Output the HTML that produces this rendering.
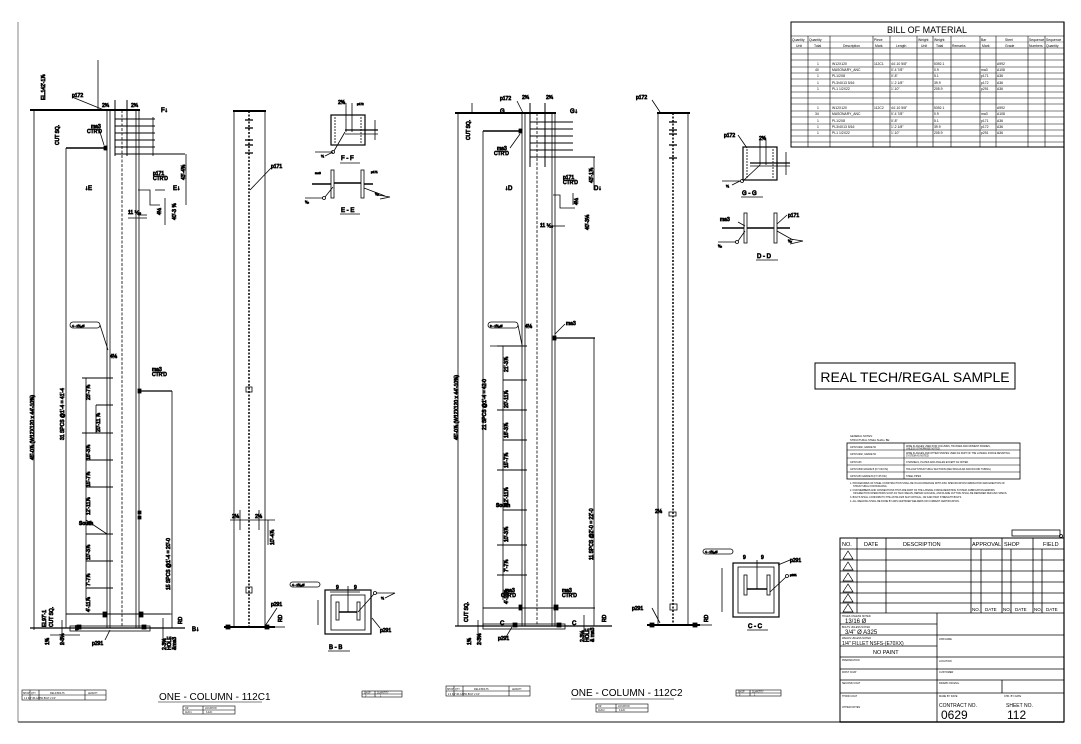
<!DOCTYPE html>
<html><head><meta charset="utf-8"><style>
html,body{margin:0;padding:0;background:#fff}
svg{display:block}
text{font-family:"Liberation Sans",sans-serif;fill:#000}
.t{font-size:5px}.s{font-size:3px}.m{font-size:6px}
</style></head><body>
<svg width="1081" height="744" viewBox="0 0 1081 744" xmlns="http://www.w3.org/2000/svg" stroke="#000" fill="none" stroke-width="0.8">
<!-- frame -->
<line x1="18" y1="22" x2="18" y2="722" stroke="#666"/>
<line x1="1064" y1="22" x2="1064" y2="722" stroke-width="1.2"/>
<line x1="18" y1="722" x2="1064" y2="722" stroke="#777" stroke-width="1.8"/>

<!-- ===== COLUMN 1 ELEVATION ===== -->
<g>
<line x1="34" y1="110" x2="34" y2="630"/>
<line x1="66" y1="148" x2="66" y2="628"/>
<line x1="30" y1="110" x2="140" y2="110" stroke-width="2"/>
<line x1="107" y1="110" x2="107" y2="628"/><line x1="110" y1="110" x2="110" y2="628"/>
<line x1="122" y1="110" x2="122" y2="628" stroke-dasharray="3,1.5"/>
<line x1="136" y1="110" x2="136" y2="628"/><line x1="139" y1="110" x2="139" y2="628"/>
<g stroke-width="1">
<line x1="115" y1="119" x2="155" y2="119"/><line x1="115" y1="126" x2="155" y2="126"/><line x1="115" y1="133" x2="155" y2="133"/><line x1="115" y1="140" x2="155" y2="140"/><line x1="115" y1="147" x2="155" y2="147"/><line x1="115" y1="154" x2="185" y2="154"/>
<line x1="115" y1="100" x2="115" y2="156"/><line x1="127" y1="100" x2="127" y2="156"/>
</g>
<line x1="153" y1="117" x2="153" y2="156"/>
<line x1="186" y1="154" x2="186" y2="205"/>
<line x1="66" y1="148" x2="105" y2="148" stroke-width="1.5"/><rect x="104" y="146" width="3" height="4" fill="#000"/>
<line x1="98" y1="60" x2="98" y2="110"/>
<line x1="99" y1="129" x2="104" y2="145"/>
<line x1="72" y1="97" x2="104" y2="110"/>
<!-- p171 bracket -->
<polyline points="138,190 150,190 150,205 160,205"/><line x1="155" y1="190" x2="165" y2="190"/><line x1="138" y1="215" x2="147" y2="215"/><line x1="128" y1="218" x2="147" y2="218"/>
<line x1="165" y1="198" x2="165" y2="225"/>
<!-- anchors -->
<g stroke-width="1">
<line x1="82" y1="378" x2="113" y2="378"/><line x1="96" y1="405" x2="113" y2="405"/><line x1="82" y1="433" x2="113" y2="433"/><line x1="86" y1="460" x2="113" y2="460"/><line x1="86" y1="487" x2="113" y2="487"/><line x1="86" y1="534" x2="113" y2="534"/><line x1="86" y1="561" x2="113" y2="561"/><line x1="86" y1="588" x2="113" y2="588"/><line x1="66" y1="614" x2="170" y2="614"/>
</g>
<line x1="86" y1="378" x2="86" y2="600"/><line x1="96" y1="405" x2="96" y2="433"/>
<line x1="140" y1="391" x2="172" y2="391" stroke-width="1.3"/><rect x="138" y="389" width="3" height="4" fill="#000"/>
<line x1="172" y1="391" x2="172" y2="628"/>
<rect x="138" y="511" width="3" height="3" fill="#000"/><rect x="138" y="516" width="3" height="3" fill="#000"/>
<rect x="103" y="612" width="4" height="5" fill="#000"/><rect x="139" y="612" width="4" height="5" fill="#000"/>
<line x1="140" y1="614" x2="172" y2="614"/>
<line x1="30" y1="628" x2="185" y2="628" stroke-width="1.3"/>
<rect x="70" y="626" width="80" height="5"/>
<rect x="77" y="625" width="4" height="4" fill="#000"/><rect x="142" y="625" width="4" height="4" fill="#000"/>
<line x1="62" y1="620" x2="62" y2="645"/><line x1="50" y1="635" x2="80" y2="635"/>
<line x1="163" y1="618" x2="163" y2="645"/>
<rect x="70" y="322" width="30" height="6" rx="3"/>
<line x1="100" y1="325" x2="108" y2="350"/>
<line x1="86" y1="520" x2="107" y2="534"/>
<line x1="105" y1="640" x2="110" y2="630"/>
</g>
<g class="t">
<text transform="translate(45,100) rotate(-90)">EL.142'-1⅞</text>
<text transform="translate(59,145) rotate(-90)">CUT SQ.</text>
<text x="72" y="97">p172</text>
<text x="102" y="107">2¾</text><text x="131" y="107">2¾</text>
<text x="91" y="128">ma3</text><text x="87" y="133">CTR'D</text>
<text x="161" y="112" class="m">F↓</text>
<text x="85" y="190" class="m">↓E</text><text x="173" y="190" class="m">E↓</text>
<text x="153" y="175">p171</text><text x="153" y="180">CTR'D</text>
<text x="128" y="214">11 ⅟₁₆</text>
<text transform="translate(185,180) rotate(-90)">43'-4⅜</text>
<text transform="translate(176,220) rotate(-90)">40'-3 ⅝</text>
<text transform="translate(161,215) rotate(-90)">4½</text>
<text transform="translate(34,460) rotate(-90)">45'-0⅞ (W12X120 x 44'-10⅝)</text>
<text transform="translate(64,440) rotate(-90)">31 SPCS @1'-4 = 41'-4</text>
<text x="72" y="327" class="s">4 - 1⁵⁄₁₆∅</text>
<text x="110" y="358">4⅛</text>
<text x="152" y="371">ma3</text><text x="152" y="376">CTR'D</text>
<text transform="translate(90,400) rotate(-90)">23'-7⅞</text>
<text transform="translate(100,432) rotate(-90)">20'-11 ⅞</text>
<text transform="translate(90,460) rotate(-90)">18'-3⅞</text>
<text transform="translate(90,487) rotate(-90)">15'-7⅞</text>
<text transform="translate(90,515) rotate(-90)">12'-11⅞</text>
<text x="79" y="525" font-weight="bold">South</text>
<text transform="translate(90,560) rotate(-90)">10'-3⅞</text>
<text transform="translate(90,586) rotate(-90)">7'-7⅞</text>
<text transform="translate(90,612) rotate(-90)">4'-11⅞</text>
<text transform="translate(170,590) rotate(-90)">15 SPCS @1'-4 = 20'-0</text>
<text transform="translate(46,627) rotate(-90)">EL97'-1</text>
<text transform="translate(53,627) rotate(-90)">CUT SQ.</text>
<text transform="translate(49,645) rotate(-90)">1⅝</text>
<text transform="translate(64,645) rotate(-90)">2-3⅛</text>
<text x="75" y="630" class="m">B</text>
<text x="92" y="645">p291</text>
<text transform="translate(182,624) rotate(-90)">RD</text>
<text x="192" y="631" class="m">B↓</text>
<text transform="translate(166,650) rotate(-90)">2-3⅛</text>
<text transform="translate(171,650) rotate(-90)">HOLE</text>
<text transform="translate(176,650) rotate(-90)">&amp;ma3</text>
</g>

<!-- ===== COLUMN 1 SIDE ===== -->
<line x1="234" y1="111" x2="234" y2="627"/><line x1="265" y1="111" x2="265" y2="627"/>
<line x1="249" y1="111" x2="249" y2="627" stroke-dasharray="2,1.5" stroke-width="1.5"/>
<line x1="233" y1="111" x2="266" y2="111" stroke-width="2"/>
<g stroke-width="1.3"><line x1="245" y1="120" x2="253" y2="120"/><line x1="245" y1="128" x2="253" y2="128"/><line x1="245" y1="140" x2="253" y2="140"/><line x1="245" y1="145" x2="253" y2="145"/><line x1="245" y1="153" x2="253" y2="153"/></g>
<line x1="250" y1="190" x2="271" y2="168"/>
<rect x="246" y="387" width="6" height="5"/><rect x="246" y="587" width="6" height="6"/>
<line x1="224" y1="627" x2="275" y2="627" stroke-width="2"/>
<rect x="226" y="625" width="4" height="4" fill="#000"/><rect x="265" y="625" width="4" height="4" fill="#000"/>
<line x1="230" y1="520" x2="275" y2="520"/><line x1="240" y1="510" x2="240" y2="530"/><line x1="259" y1="510" x2="259" y2="530"/>
<line x1="268" y1="520" x2="268" y2="545"/>
<line x1="265" y1="626" x2="277" y2="608"/>
<line x1="275" y1="627" x2="285" y2="627"/>
<g class="t"><text x="271" y="168">p171</text><text x="271" y="606">p291</text><text transform="translate(282,622) rotate(-90)">RD</text><text transform="translate(274,545) rotate(-90)">10'-4⅞</text><text x="232" y="518">2⅛</text><text x="255" y="518">2⅛</text></g>

<!-- F-F -->
<rect x="331" y="115" width="34" height="30" stroke-width="1.2"/>
<line x1="335" y1="117" x2="335" y2="143" stroke-dasharray="2,1"/><line x1="361" y1="117" x2="361" y2="143" stroke-dasharray="2,1"/>
<line x1="345" y1="130" x2="378" y2="130" stroke-width="1.3"/><line x1="345" y1="134" x2="378" y2="134"/>
<line x1="346" y1="103" x2="346" y2="132"/><line x1="352" y1="103" x2="352" y2="132"/><line x1="375" y1="120" x2="375" y2="140"/>
<line x1="345" y1="132" x2="334" y2="151"/><circle cx="333" cy="152" r="1.5"/>
<polyline points="315,152 333,152 325,156"/>
<g class="t"><text x="338" y="104">2⅜</text><text x="357" y="105" class="s">p172</text><text x="321" y="157" class="s">⅟₄</text><text x="341" y="160" class="m">F - F</text></g>
<line x1="340" y1="163" x2="360" y2="163"/>
<!-- E-E -->
<rect x="331" y="170" width="3" height="28"/><rect x="361" y="170" width="3" height="28"/>
<line x1="334" y1="183" x2="361" y2="183" stroke-width="1.5"/>
<line x1="312" y1="184" x2="331" y2="184" stroke-width="1.5"/><line x1="364" y1="184" x2="373" y2="184" stroke-width="1.5"/>
<line x1="333" y1="187" x2="325" y2="197"/><circle cx="324" cy="198" r="1.5"/>
<polyline points="305,198 323,198"/>
<line x1="364" y1="188" x2="385" y2="196"/><polyline points="378,195 390,197 380,199"/>
<g class="t"><text x="315" y="174" class="s">ma3</text><text x="371" y="173" class="s">p171</text><text x="305" y="203" class="s">⁵⁄₁₆</text><text x="375" y="195" class="s">⁵⁄₁₆</text><text x="341" y="212" class="m">E - E</text></g>
<line x1="340" y1="214" x2="360" y2="214"/>
<!-- B-B -->
<rect x="325" y="590" width="46" height="44" stroke-width="1.2"/>
<rect x="331" y="595" width="34" height="35"/>
<rect x="336" y="602" width="3" height="18"/><rect x="357" y="602" width="3" height="18"/>
<line x1="339" y1="612" x2="357" y2="612" stroke-width="1.5"/>
<line x1="330" y1="592" x2="360" y2="592"/><line x1="348" y1="586" x2="348" y2="612"/>
<line x1="318" y1="600" x2="318" y2="625"/>
<line x1="358" y1="612" x2="374" y2="594"/><circle cx="375" cy="593" r="1.5"/>
<polyline points="376,593 395,593 385,598"/>
<rect x="290" y="582" width="30" height="5" rx="2.5"/>
<line x1="372" y1="618" x2="380" y2="628"/>
<g class="t"><text x="292" y="586" class="s">4 - 1⁵⁄₁₆∅</text><text x="336" y="589">9</text><text x="354" y="589">9</text><text x="380" y="632">p291</text><text x="381" y="599" class="s">⅟₄</text><text x="329" y="649" class="m">B - B</text></g>
<line x1="328" y1="651" x2="350" y2="651"/>

<!-- ===== COLUMN 2 ELEVATION ===== -->
<line x1="458" y1="113" x2="458" y2="626"/>
<line x1="483" y1="131" x2="483" y2="626"/>
<line x1="455" y1="113" x2="556" y2="113" stroke-width="2"/>
<line x1="522" y1="113" x2="522" y2="626"/><line x1="525" y1="113" x2="525" y2="626"/>
<line x1="537" y1="113" x2="537" y2="626" stroke-dasharray="3,1.5"/>
<line x1="552" y1="113" x2="552" y2="626"/><line x1="555" y1="113" x2="555" y2="626"/>
<g stroke-width="1"><line x1="530" y1="122" x2="573" y2="122"/><line x1="530" y1="129" x2="573" y2="129"/><line x1="530" y1="136" x2="573" y2="136"/><line x1="530" y1="143" x2="573" y2="143"/><line x1="530" y1="150" x2="573" y2="150"/><line x1="530" y1="157" x2="595" y2="157"/>
<line x1="530" y1="103" x2="530" y2="167"/><line x1="545" y1="103" x2="545" y2="167"/></g>
<line x1="483" y1="131" x2="520" y2="131" stroke-width="1.5"/><rect x="519" y="129" width="3" height="4" fill="#000"/>
<line x1="472" y1="103" x2="472" y2="113"/>
<line x1="510" y1="148" x2="520" y2="134"/>
<line x1="517" y1="101" x2="523" y2="113"/>
<polyline points="553,195 560,195 560,208 575,208"/><line x1="553" y1="226" x2="565" y2="226"/><line x1="573" y1="193" x2="573" y2="205"/>
<line x1="594" y1="157" x2="594" y2="190"/>
<line x1="490" y1="346" x2="520" y2="346"/><line x1="483" y1="346" x2="483" y2="346"/>
<g stroke-width="1"><line x1="497" y1="346" x2="527" y2="346"/><line x1="503" y1="380" x2="527" y2="380"/><line x1="497" y1="410" x2="527" y2="410"/><line x1="503" y1="440" x2="527" y2="440"/><line x1="497" y1="470" x2="527" y2="470"/><line x1="503" y1="510" x2="527" y2="510"/><line x1="497" y1="545" x2="527" y2="545"/><line x1="497" y1="575" x2="527" y2="575"/><line x1="483" y1="608" x2="595" y2="608"/></g>
<line x1="503" y1="346" x2="503" y2="600"/>
<line x1="556" y1="338" x2="595" y2="338" stroke-width="1.3"/><rect x="553" y="336" width="3" height="4" fill="#000"/>
<line x1="594" y1="338" x2="594" y2="626"/>
<rect x="488" y="322" width="30" height="6" rx="3"/>
<line x1="518" y1="325" x2="522" y2="345"/>
<line x1="555" y1="334" x2="565" y2="324"/>
<rect x="519" y="605" width="3" height="5" fill="#000"/><rect x="554" y="605" width="4" height="5" fill="#000"/>
<line x1="455" y1="626" x2="612" y2="626" stroke-width="1.3"/>
<rect x="483" y="624" width="82" height="5"/>
<rect x="513" y="623" width="4" height="4" fill="#000"/><rect x="557" y="623" width="4" height="4" fill="#000"/>
<line x1="478" y1="620" x2="478" y2="645"/><line x1="584" y1="615" x2="584" y2="642"/>
<line x1="506" y1="637" x2="512" y2="627"/>
<g class="t">
<text transform="translate(470,140) rotate(-90)">CUT SQ.</text>
<text x="500" y="100">p172</text><text x="522" y="99">2¾</text><text x="546" y="99">2¾</text>
<text x="497" y="150">ma3</text><text x="494" y="155">CTR'D</text>
<text x="570" y="113" class="m">G↓</text><text x="500" y="113" class="m">G</text>
<text x="505" y="190" class="m">↓D</text><text x="594" y="190" class="m">D↓</text>
<text x="563" y="179">p171</text><text x="563" y="184">CTR'D</text>
<text x="540" y="227">11 ⅟₁₆</text>
<text transform="translate(593,183) rotate(-90)">43'-1⅞</text>
<text transform="translate(589,230) rotate(-90)">40'-3⅛</text>
<text transform="translate(578,205) rotate(-90)">4½</text>
<text transform="translate(458,440) rotate(-90)">45'-0⅞ (W12X120 x 44'-10⅝)</text>
<text transform="translate(486,430) rotate(-90)">21 SPCS @1'-4 = 42-0</text>
<text x="490" y="327" class="s">9 - 1⁵⁄₁₆∅</text>
<text x="525" y="328">4⅛</text>
<text x="566" y="325">ma3</text>
<text transform="translate(508,372) rotate(-90)">21'-3⅞</text>
<text transform="translate(508,408) rotate(-90)">20'-11⅞</text>
<text transform="translate(508,438) rotate(-90)">18'-3⅞</text>
<text transform="translate(508,468) rotate(-90)">15'-7⅞</text>
<text transform="translate(508,505) rotate(-90)">12'-11⅞</text>
<text x="496" y="507" font-weight="bold">South</text>
<text transform="translate(508,542) rotate(-90)">10'-3⅞</text>
<text transform="translate(508,572) rotate(-90)">7'-7⅞</text>
<text transform="translate(508,604) rotate(-90)">4'-11⅞</text>
<text transform="translate(593,560) rotate(-90)">11 SPCS @2'-0 = 22'-0</text>
<text x="505" y="592">ma3</text><text x="501" y="597">CTR'D</text>
<text x="562" y="592">ma3</text><text x="562" y="597">CTR'D</text>
<text transform="translate(468,622) rotate(-90)">CUT SQ.</text>
<text transform="translate(471,645) rotate(-90)">1⅝</text>
<text transform="translate(481,645) rotate(-90)">2-3⅛</text>
<text x="498" y="640">p291</text>
<text x="500" y="625" class="m">C</text><text x="572" y="625" class="m">C</text>
<text transform="translate(606,622) rotate(-90)">RD</text>
<text transform="translate(584,642) rotate(-90)">2-3⅛</text>
<text transform="translate(589,642) rotate(-90)">HOLE</text>
<text transform="translate(594,642) rotate(-90)">&amp; ma3</text>
</g>

<!-- ===== COLUMN 2 SIDE ===== -->
<line x1="658" y1="113" x2="658" y2="625"/><line x1="688" y1="113" x2="688" y2="625"/>
<line x1="673" y1="113" x2="673" y2="625" stroke-dasharray="2,1.5" stroke-width="1.5"/>
<line x1="657" y1="113" x2="690" y2="113" stroke-width="2"/>
<g stroke-width="1.3"><line x1="669" y1="122" x2="677" y2="122"/><line x1="669" y1="130" x2="677" y2="130"/><line x1="669" y1="134" x2="677" y2="134"/><line x1="669" y1="145" x2="677" y2="145"/><line x1="669" y1="158" x2="677" y2="158"/></g>
<line x1="652" y1="100" x2="660" y2="112"/>
<rect x="670" y="604" width="7" height="6"/><rect x="669" y="512" width="7" height="4"/>
<line x1="647" y1="625" x2="700" y2="625" stroke-width="2"/>
<rect x="650" y="623" width="4" height="4" fill="#000"/><rect x="693" y="623" width="4" height="4" fill="#000"/>
<line x1="652" y1="608" x2="660" y2="623"/>
<line x1="700" y1="625" x2="712" y2="625"/>
<g class="t"><text x="636" y="99">p172</text><text x="632" y="610">p291</text><text x="655" y="513">2⅛</text><text transform="translate(708,622) rotate(-90)">RD</text></g>

<!-- G-G -->
<rect x="743" y="147" width="34" height="33" stroke-width="1.2"/>
<line x1="747" y1="149" x2="747" y2="178" stroke-dasharray="2,1"/><line x1="773" y1="149" x2="773" y2="178" stroke-dasharray="2,1"/>
<line x1="750" y1="163" x2="790" y2="163" stroke-width="1.3"/><line x1="750" y1="166" x2="790" y2="166"/>
<line x1="760" y1="140" x2="760" y2="165"/><line x1="766" y1="140" x2="766" y2="165"/><line x1="786" y1="152" x2="786" y2="175"/>
<line x1="760" y1="165" x2="744" y2="180"/><circle cx="742" cy="181" r="1.5"/>
<polyline points="722,181 740,181 732,185"/>
<line x1="738" y1="135" x2="747" y2="148"/>
<g class="t"><text x="724" y="137">p172</text><text x="759" y="140">2⅜</text><text x="726" y="187" class="s">⅟₄</text><text x="742" y="195" class="m">G - G</text></g>
<line x1="741" y1="197" x2="763" y2="197"/>
<!-- D-D -->
<rect x="744" y="213" width="3" height="30"/><rect x="774" y="213" width="3" height="30"/>
<line x1="747" y1="228" x2="774" y2="228" stroke-width="1.5"/>
<line x1="722" y1="228" x2="744" y2="228" stroke-width="1.5"/><line x1="777" y1="228" x2="790" y2="228" stroke-width="1.5"/>
<line x1="745" y1="231" x2="738" y2="241"/><circle cx="737" cy="242" r="1.5"/>
<line x1="718" y1="242" x2="736" y2="242"/>
<line x1="777" y1="231" x2="793" y2="240"/><polyline points="790,239 803,241 790,244"/>
<line x1="738" y1="222" x2="745" y2="226"/><line x1="777" y1="224" x2="787" y2="215"/>
<g class="t"><text x="720" y="221">ma3</text><text x="788" y="217">p171</text><text x="718" y="247" class="s">⁵⁄₁₆</text><text x="788" y="242" class="s">⁵⁄₁₆</text><text x="757" y="258" class="m">D - D</text></g>
<line x1="756" y1="260" x2="778" y2="260"/>
<!-- C-C -->
<rect x="733" y="563" width="46" height="54" stroke-width="1.2"/>
<rect x="738" y="567" width="36" height="46"/>
<rect x="744" y="575" width="3" height="20"/><rect x="767" y="575" width="3" height="20"/>
<line x1="747" y1="589" x2="767" y2="589" stroke-width="1.5"/>
<line x1="757" y1="560" x2="757" y2="589"/>
<line x1="722" y1="568" x2="722" y2="612"/>
<line x1="770" y1="592" x2="786" y2="577"/><circle cx="787" cy="576" r="1.5"/>
<rect x="703" y="549" width="30" height="5" rx="2.5"/>
<line x1="778" y1="565" x2="790" y2="560"/>
<g class="t"><text x="705" y="553" class="s">4 - 1⁵⁄₁₆∅</text><text x="743" y="559">9</text><text x="761" y="559">9</text><text x="790" y="562">p291</text><text x="790" y="576" class="s">p291</text><text x="748" y="628" class="m">C - C</text></g>
<line x1="747" y1="630" x2="768" y2="630"/>

<!-- ===== BILL OF MATERIAL ===== -->
<rect x="791" y="22" width="273" height="125" stroke-width="1"/>
<text x="927" y="33" font-size="9" text-anchor="middle" stroke="none">BILL OF MATERIAL</text>
<g stroke-width="0.6">
<line x1="791" y1="36" x2="1064" y2="36"/>
<line x1="791" y1="42" x2="1064" y2="42" stroke-width="0.3"/>
<line x1="791" y1="48" x2="1064" y2="48"/>
<line x1="791" y1="54" x2="1064" y2="54"/>
<line x1="791" y1="60" x2="1064" y2="60"/>
<line x1="791" y1="67" x2="1064" y2="67"/><line x1="791" y1="73" x2="1064" y2="73"/><line x1="791" y1="79" x2="1064" y2="79"/><line x1="791" y1="86" x2="1064" y2="86"/><line x1="791" y1="92" x2="1064" y2="92"/><line x1="791" y1="98" x2="1064" y2="98"/><line x1="791" y1="104" x2="1064" y2="104"/><line x1="791" y1="111" x2="1064" y2="111"/><line x1="791" y1="117" x2="1064" y2="117"/><line x1="791" y1="124" x2="1064" y2="124"/><line x1="791" y1="130" x2="1064" y2="130"/><line x1="791" y1="136" x2="1064" y2="136"/><line x1="791" y1="142" x2="1064" y2="142"/>
<line x1="808" y1="36" x2="808" y2="147"/><line x1="830" y1="36" x2="830" y2="147"/><line x1="873" y1="36" x2="873" y2="147"/><line x1="890" y1="36" x2="890" y2="147"/><line x1="917" y1="36" x2="917" y2="147"/><line x1="933" y1="36" x2="933" y2="147"/><line x1="951" y1="36" x2="951" y2="147"/><line x1="980" y1="36" x2="980" y2="147"/><line x1="996" y1="36" x2="996" y2="147"/><line x1="1028" y1="36" x2="1028" y2="147"/><line x1="1045" y1="36" x2="1045" y2="147"/>
</g>
<g font-size="3.4" stroke="none">
<text x="792" y="41">Quantity</text><text x="809" y="41">Quantity</text><text x="874" y="41">Piece</text><text x="918" y="41">Weight</text><text x="934" y="41">Weight</text><text x="981" y="41">Bar</text><text x="1005" y="41">Steel</text><text x="1029" y="41">Sequence</text><text x="1046" y="41">Sequence</text>
<text x="796" y="47">Unit</text><text x="814" y="47">Total</text><text x="843" y="47">Description</text><text x="875" y="47">Mark</text><text x="896" y="47">Length</text><text x="921" y="47">Unit</text><text x="936" y="47">Total</text><text x="952" y="47">Remarks</text><text x="982" y="47">Mark</text><text x="1005" y="47">Grade</text><text x="1029" y="47">Numbers</text><text x="1046" y="47">Quantity</text>
<text x="817" y="65">1</text><text x="832" y="65">W12X120</text><text x="874" y="65">112C1</text><text x="891" y="65">44'-10 5/8"</text><text x="934" y="65">5392.1</text><text x="997" y="65">A992</text>
<text x="815" y="71">40</text><text x="832" y="71">MASONARY_ANC</text><text x="891" y="71">0'-4 7/8"</text><text x="934" y="71">0.9</text><text x="981" y="71">ma3</text><text x="997" y="71">A108</text>
<text x="817" y="77">1</text><text x="832" y="77">PL1/2X8</text><text x="891" y="77">0'-8"</text><text x="934" y="77">5.1</text><text x="981" y="77">p171</text><text x="997" y="77">A36</text>
<text x="817" y="84">1</text><text x="832" y="84">PL3/4X13 5/16</text><text x="891" y="84">1'-2 1/8"</text><text x="934" y="84">39.9</text><text x="981" y="84">p172</text><text x="997" y="84">A36</text>
<text x="817" y="90">1</text><text x="832" y="90">PL1 1/2X22</text><text x="891" y="90">1'-10"</text><text x="934" y="90">205.9</text><text x="981" y="90">p291</text><text x="997" y="90">A36</text>
<text x="817" y="109">1</text><text x="832" y="109">W12X120</text><text x="874" y="109">112C2</text><text x="891" y="109">44'-10 5/8"</text><text x="934" y="109">5392.1</text><text x="997" y="109">A992</text>
<text x="815" y="115">34</text><text x="832" y="115">MASONARY_ANC</text><text x="891" y="115">0'-4 7/8"</text><text x="934" y="115">0.9</text><text x="981" y="115">ma3</text><text x="997" y="115">A108</text>
<text x="817" y="122">1</text><text x="832" y="122">PL1/2X8</text><text x="891" y="122">0'-8"</text><text x="934" y="122">5.1</text><text x="981" y="122">p171</text><text x="997" y="122">A36</text>
<text x="817" y="128">1</text><text x="832" y="128">PL3/4X13 5/16</text><text x="891" y="128">1'-2 1/8"</text><text x="934" y="128">39.9</text><text x="981" y="128">p172</text><text x="997" y="128">A36</text>
<text x="817" y="134">1</text><text x="832" y="134">PL1 1/2X22</text><text x="891" y="134">1'-10"</text><text x="934" y="134">205.9</text><text x="981" y="134">p291</text><text x="997" y="134">A36</text>
</g>

<!-- REAL TECH -->
<rect x="815" y="363" width="200" height="26" stroke-width="1"/>
<text x="915" y="382" font-size="14" text-anchor="middle" stroke="none">REAL TECH/REGAL SAMPLE</text>

<!-- notes -->
<g stroke="none" font-size="2.6" fill="#333">
<text x="850" y="437">GENERAL NOTES:</text><text x="850" y="441">STRUCTURAL STEEL SHALL BE:</text>
</g>
<rect x="847" y="443" width="173" height="36" stroke-width="0.8"/>
<g stroke-width="0.6"><line x1="847" y1="450" x2="1020" y2="450"/><line x1="847" y1="458" x2="1020" y2="458"/><line x1="847" y1="465" x2="1020" y2="465"/><line x1="847" y1="472" x2="1020" y2="472"/><line x1="904" y1="443" x2="904" y2="479"/></g>
<g stroke="none" font-size="2.4" fill="#444">
<text x="850" y="448">ASTM A992, GRADE 50</text><text x="906" y="447">WIDE FLANGES USED FOR COLUMNS, TRUSSES AND MOMENT FRAMES,</text><text x="906" y="449.5">UNLESS OTHERWISE NOTED.</text>
<text x="850" y="455">ASTM A992, GRADE 50</text><text x="906" y="454">WIDE FLANGES AND OTHER SHAPES USED AS PART OF THE LATERAL FORCE RESISTING</text><text x="906" y="456.5">SYSTEM AS NOTED.</text>
<text x="850" y="463">ASTM A36</text><text x="906" y="463">CHANNELS, PLATES AND ANGLES EXCEPT AS NOTED.</text>
<text x="850" y="470">ASTM A500 GRADE B (FY=46 KSI)</text><text x="906" y="470">HOLLOW STRUCTURAL SECTIONS (RECTANGULAR AND ROUND TUBING)</text>
<text x="850" y="477">ASTM A53 GRADE B (FY=35 KSI)</text><text x="906" y="477">STEEL PIPES</text>
<text x="850" y="484">1. PROCEDURES OF STEEL CONSTRUCTION SHALL BE IN ACCORDANCE WITH AISC SPECIFICATION FABRICATION AND ERECTION OF</text>
<text x="853" y="487">STRUCTURAL FOR BUILDING.</text>
<text x="850" y="491">2. FOR MEMBERS AND CONNECTIONS THAT ARE PART OF THE LATERAL FORCE RESISTING SYSTEM, FABRICATION ERRORS</text>
<text x="853" y="494">OR ERECTION OPERATIONS SUCH AS TACK WELDS, REPAIR GOUGING, AND FLAME CUTTING SHALL BE REPAIRED PER AISC SPECS.</text>
<text x="850" y="498">3. BOLTS SHALL CONFORM TO THE ASTM A325 SLIP CRITICAL, OR A490 HIGH STRENGTH BOLTS.</text>
<text x="850" y="502">4. ALL WELDING SHALL BE DONE BY AWS CERTIFIED WELDERS OR CURRENT CERTIFICATION.</text>
</g>

<!-- title block -->
<rect x="1012" y="530" width="48" height="6" stroke-width="0.8"/><circle cx="1061" cy="536" r="1.5"/>
<rect x="840" y="538" width="224" height="184" stroke-width="1"/>
<g stroke-width="0.8">
<line x1="840" y1="549" x2="1064" y2="549"/>
<line x1="840" y1="560" x2="1064" y2="560"/><line x1="840" y1="571" x2="1064" y2="571"/><line x1="840" y1="582" x2="1064" y2="582"/><line x1="840" y1="593" x2="1064" y2="593"/><line x1="840" y1="603" x2="1064" y2="603"/>
<line x1="840" y1="613" x2="1064" y2="613"/>
<line x1="857" y1="538" x2="857" y2="613"/><line x1="886" y1="538" x2="886" y2="613"/><line x1="971" y1="538" x2="971" y2="613"/><line x1="981" y1="549" x2="981" y2="613"/><line x1="1002" y1="538" x2="1002" y2="613"/><line x1="1011" y1="549" x2="1011" y2="613"/><line x1="1033" y1="538" x2="1033" y2="613"/><line x1="1042" y1="549" x2="1042" y2="613"/>
<line x1="937" y1="613" x2="937" y2="722"/>
<line x1="840" y1="624" x2="937" y2="624"/><line x1="840" y1="635" x2="1064" y2="635"/><line x1="840" y1="646" x2="937" y2="646"/><line x1="840" y1="657" x2="1064" y2="657"/><line x1="840" y1="669" x2="1064" y2="669"/><line x1="840" y1="680" x2="1064" y2="680"/><line x1="840" y1="693" x2="1064" y2="693"/><line x1="840" y1="706" x2="840" y2="706"/>
<line x1="1002" y1="680" x2="1002" y2="693"/>
</g>
<g stroke-width="0.7">
<polygon points="848,551 843,559 853,559"/><polygon points="848,562 843,570 853,570"/><polygon points="848,573 843,581 853,581"/><polygon points="848,584 843,592 853,592"/><polygon points="848,594 843,602 853,602"/><polygon points="848,604 843,612 853,612"/>
</g>
<g stroke="none" font-size="5.5">
<text x="842" y="546">NO.</text><text x="864" y="546">DATE</text><text x="903" y="546">DESCRIPTION</text><text x="972" y="546">APPROVAL</text><text x="1004" y="546">SHOP</text><text x="1043" y="546">FIELD</text>
<text x="972" y="611" font-size="4.5">NO.</text><text x="985" y="611" font-size="4.5">DATE</text><text x="1003" y="611" font-size="4.5">NO.</text><text x="1015" y="611" font-size="4.5">DATE</text><text x="1034" y="611" font-size="4.5">NO.</text><text x="1046" y="611" font-size="4.5">DATE</text>
<text x="842" y="617" font-size="2.5">HOLES UNLESS NOTED</text><text x="845" y="623" font-size="6">13/16 Ø</text>
<text x="842" y="628" font-size="2.5">BOLTS UNLESS NOTED</text><text x="845" y="634" font-size="6">3/4" Ø A325</text>
<text x="842" y="639" font-size="2.5">WELDS UNLESS NOTED</text><text x="842" y="645" font-size="5">1/4" FILLET NSFS-(E70XX)</text>
<text x="873" y="654" font-size="5.5">NO PAINT</text>
<text x="939" y="640" font-size="2.5">JOB NAME</text><text x="939" y="662" font-size="2.5">LOCATION</text><text x="939" y="673" font-size="2.5">CUSTOMER</text><text x="939" y="684" font-size="2.5">DRAWN OR ENG.</text><text x="939" y="697" font-size="2.5">MADE BY    DATE</text><text x="1004" y="697" font-size="2.5">CHK. BY    DATE</text>
<text x="842" y="661" font-size="2.5">PREPARATION</text><text x="842" y="673" font-size="2.5">FIRST COAT</text><text x="842" y="684" font-size="2.5">SECOND COAT</text><text x="842" y="697" font-size="2.5">THIRD COAT</text><text x="842" y="708" font-size="2.5">OTHER NOTES</text>
<text x="939" y="707" font-size="5">CONTRACT NO.</text><text x="1006" y="707" font-size="5">SHEET NO.</text>
<text x="941" y="719" font-size="12">0629</text><text x="1007" y="719" font-size="12">112</text>
</g>

<!-- bottom titles/tables -->
<g stroke-width="0.6">
<rect x="22" y="690" width="84" height="10"/><line x1="22" y1="695" x2="106" y2="695"/><line x1="30" y1="690" x2="30" y2="700"/><line x1="39" y1="690" x2="39" y2="700"/><line x1="85" y1="690" x2="85" y2="700"/>
<rect x="183" y="706" width="52" height="8"/><line x1="183" y1="710" x2="235" y2="710"/><line x1="203" y1="706" x2="203" y2="714"/>
<rect x="362" y="691" width="40" height="6"/><line x1="362" y1="694" x2="402" y2="694"/><line x1="375" y1="691" x2="375" y2="697"/>
<rect x="446" y="686" width="84" height="10"/><line x1="446" y1="691" x2="530" y2="691"/><line x1="454" y1="686" x2="454" y2="696"/><line x1="463" y1="686" x2="463" y2="696"/><line x1="509" y1="686" x2="509" y2="696"/>
<rect x="596" y="704" width="52" height="8"/><line x1="596" y1="708" x2="648" y2="708"/><line x1="616" y1="704" x2="616" y2="712"/>
<rect x="736" y="690" width="45" height="6"/><line x1="736" y1="693" x2="781" y2="693"/><line x1="750" y1="690" x2="750" y2="696"/>
<line x1="158" y1="702" x2="262" y2="702"/><line x1="571" y1="699" x2="674" y2="699"/>
</g>
<g stroke="none">
<text x="159" y="700" font-size="10">ONE - COLUMN - 112C1</text>
<text x="571" y="696" font-size="10">ONE - COLUMN - 112C2</text>
<g font-size="2.3" fill="#333"><text x="23" y="694">SHOP</text><text x="31" y="694">QTY</text><text x="50" y="694">FIELD BOLTS</text><text x="88" y="694">LENGTH</text><text x="24" y="699">1  2  3/4"  Ø1  A325N  BOLT  2 1/4"</text>
<text x="447" y="690">SHOP</text><text x="455" y="690">QTY</text><text x="474" y="690">FIELD BOLTS</text><text x="512" y="690">LENGTH</text><text x="448" y="695">2  2  3/4"  Ø1  A325N  BOLT  2 1/4"</text>
<text x="185" y="709">OR</text><text x="205" y="709">LOCATION</text><text x="185" y="713">112C1</text><text x="206" y="713">3-42C</text>
<text x="598" y="707">OR</text><text x="618" y="707">LOCATION</text><text x="598" y="711">112C2</text><text x="619" y="711">3-42C</text>
<text x="364" y="693.5">SHOP</text><text x="377" y="693.5">QUANTITY</text><text x="365" y="696.5">0</text><text x="380" y="696.5">1</text>
<text x="738" y="692.5">SHOP</text><text x="752" y="692.5">QUANTITY</text><text x="739" y="695.5">0</text><text x="754" y="695.5">1</text></g>
</g>
</svg>
</body></html>
